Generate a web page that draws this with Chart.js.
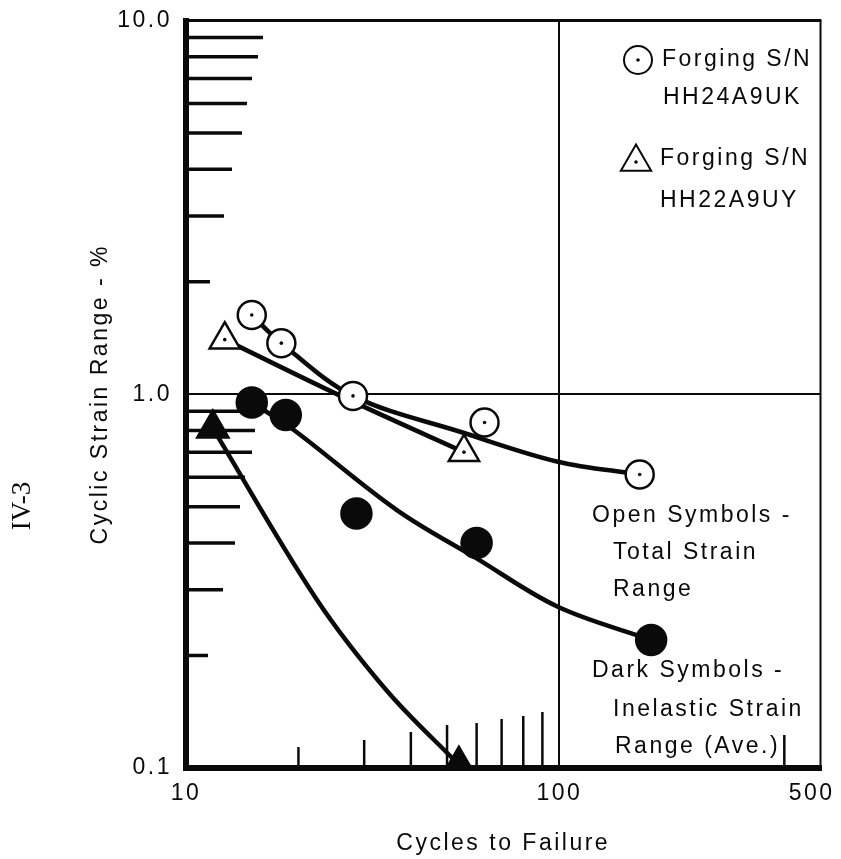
<!DOCTYPE html>
<html lang="en">
<head>
<meta charset="UTF-8">
<title>Cyclic Strain Range vs Cycles to Failure</title>
<script src="https://cdn.jsdelivr.net/npm/chart.js"></script>
<style>
  body { margin: 0; background: #fff; }
  #wrap { width: 841px; height: 859px; }
</style>
</head>
<body>
<div id="wrap"><canvas id="grafico" width="841" height="859"></canvas></div>
<script>
// values: cycles to failure / strain range in %
const cyclesTotal24 = [15, 18, 28, 63, 164];
const strainTotal24 = [1.63, 1.37, 0.99, 0.84, 0.61];
const cyclesTotal22 = [12.7, 55.5];
const strainTotal22 = [1.40, 0.70];
const cyclesInel24 = [15, 18.5, 28.6, 60, 176];
const strainInel24 = [0.95, 0.88, 0.48, 0.40, 0.22];
const cyclesInel22 = [11.8, 53.8];
const strainInel22 = [0.81, 0.102];

// hand drawn fit curves
const fitTotal24X = [15, 18, 28, 55, 99, 164];
const fitTotal24Y = [1.63, 1.37, 0.99, 0.79, 0.66, 0.61];
const fitTotal22X = [12.7, 26.8, 55.5];
const fitTotal22Y = [1.40, 0.975, 0.70];
const fitInel24X = [15, 19.2, 36.7, 59.7, 99, 176];
const fitInel24Y = [0.95, 0.81, 0.49, 0.365, 0.27, 0.22];
const fitInel22X = [11.8, 22.2, 34.5, 53.8];
const fitInel22Y = [0.81, 0.286, 0.161, 0.102];

// axes
const xTickValues = [10, 100, 500];
const yTickValues = [0.1, 1, 10];
const xMinorValues = [20, 30, 40, 50, 60, 70, 80, 90, 400];
const yMinorValues = [0.2, 0.3, 0.4, 0.5, 0.6, 0.7, 0.8, 0.9, 2, 3, 4, 5, 6, 7, 8, 9];

const black = '#0a0a0a';
const fontFam = '"Liberation Sans", Arial, sans-serif';
const pts = (xs, ys) => xs.map((x, i) => ({ x: x, y: ys[i] }));

// tick mark lengths of the "ruler" ticks on the inside of the axes
const xRulerLen = [21, 28, 36, 43, 45, 49, 52, 56, 33];
const yRulerLen = [22, 37, 49, 54, 59, 66, 69, 72, 24, 38, 46, 56, 61, 66, 72, 77];

const spacing = {
  id: 'spacing',
  beforeLayout(chart) { chart.ctx.letterSpacing = '2.5px'; },
  beforeDraw(chart) {
    const ctx = chart.ctx;
    ctx.letterSpacing = '2.5px';
    ctx.save();
    ctx.fillStyle = '#fff';
    ctx.fillRect(0, 0, chart.width, chart.height);
    ctx.restore();
  }
};

const ruler = {
  id: 'ruler',
  beforeDatasetsDraw(chart) {
    const { ctx, chartArea: a, scales: { x, y } } = chart;
    ctx.save();
    ctx.strokeStyle = black;
    ctx.lineWidth = 3;
    ctx.beginPath();
    ctx.moveTo(a.left, a.top);
    ctx.lineTo(a.right + 1, a.top);
    ctx.stroke();
    ctx.lineWidth = 2;
    ctx.beginPath();
    ctx.moveTo(a.right, a.top);
    ctx.lineTo(a.right, a.bottom);
    ctx.stroke();

    ctx.lineWidth = 3.5;
    yMinorValues.forEach((v, i) => {
      const py = y.getPixelForValue(v);
      ctx.beginPath();
      ctx.moveTo(a.left, py);
      ctx.lineTo(a.left + yRulerLen[i], py);
      ctx.stroke();
    });
    ctx.lineWidth = 2.5;
    xMinorValues.forEach((v, i) => {
      const px = x.getPixelForValue(v);
      ctx.beginPath();
      ctx.moveTo(px, a.bottom);
      ctx.lineTo(px, a.bottom - xRulerLen[i]);
      ctx.stroke();
    });
    ctx.restore();
  }
};

const notes = {
  id: 'notes',
  afterDatasetsDraw(chart) {
    const ctx = chart.ctx;
    ctx.save();
    ctx.fillStyle = black;
    ctx.strokeStyle = black;
    ctx.font = '23px ' + fontFam;
    ctx.textAlign = 'left';
    ctx.textBaseline = 'middle';
    const lines = [
      ['Forging S/N', 662, 60],
      ['HH24A9UK', 663, 98],
      ['Forging S/N', 660, 159],
      ['HH22A9UY', 660, 201],
      ['Open Symbols -', 592, 516],
      ['Total Strain', 613, 553],
      ['Range', 613, 590],
      ['Dark Symbols -', 592, 671],
      ['Inelastic Strain', 613, 710],
      ['Range (Ave.)', 615, 747]
    ];
    lines.forEach(l => ctx.fillText(l[0], l[1], l[2]));

    // legend symbols
    ctx.lineWidth = 2;
    ctx.fillStyle = '#fff';
    ctx.beginPath();
    ctx.arc(638, 60, 14, 0, Math.PI * 2);
    ctx.fill();
    ctx.stroke();
    const tx = 636, ty = 162, r = 17.5;
    ctx.beginPath();
    ctx.moveTo(tx, ty - r);
    ctx.lineTo(tx + r * 0.866, ty + r * 0.5);
    ctx.lineTo(tx - r * 0.866, ty + r * 0.5);
    ctx.closePath();
    ctx.fill();
    ctx.stroke();
    ctx.fillStyle = black;
    [[638, 60], [tx, ty]].forEach(p => {
      ctx.beginPath();
      ctx.arc(p[0], p[1], 1.8, 0, Math.PI * 2);
      ctx.fill();
    });

    // page number
    ctx.letterSpacing = '0px';
    ctx.translate(23, 506);
    ctx.rotate(-Math.PI / 2);
    ctx.font = '27px "Liberation Serif", serif';
    ctx.textAlign = 'center';
    ctx.fillText('IV-3', 0, 0);
    ctx.restore();
  }
};

const curve = (xs, ys) => ({
  data: pts(xs, ys),
  showLine: true,
  pointRadius: 0,
  borderColor: black,
  borderWidth: 4.5,
  tension: 0.35,
  order: 3
});

const marker = (xs, ys, style, radius, fill) => ({
  data: pts(xs, ys),
  pointStyle: style,
  pointRadius: radius,
  backgroundColor: fill,
  borderColor: black,
  borderWidth: 2.5,
  order: 2
});

const dot = (xs, ys) => ({
  data: pts(xs, ys),
  pointStyle: 'circle',
  pointRadius: 1.8,
  backgroundColor: black,
  borderWidth: 0,
  order: 1
});

const ctx = document.getElementById('grafico').getContext('2d');
new Chart(ctx, {
  type: 'scatter',
  data: {
    datasets: [
      curve(fitTotal24X, fitTotal24Y),
      curve(fitTotal22X, fitTotal22Y),
      curve(fitInel24X, fitInel24Y),
      curve(fitInel22X, fitInel22Y),
      marker(cyclesTotal24, strainTotal24, 'circle', 14, '#fff'),
      marker(cyclesTotal22, strainTotal22, 'triangle', 17.5, '#fff'),
      marker(cyclesInel24, strainInel24, 'circle', 15, black),
      marker(cyclesInel22, strainInel22, 'triangle', 18, black),
      dot(cyclesTotal24, strainTotal24),
      dot(cyclesTotal22, strainTotal22)
    ]
  },
  options: {
    responsive: false,
    animation: false,
    events: [],
    devicePixelRatio: 1,
    layout: { padding: { top: 16, right: 18, bottom: 0, left: 0 } },
    plugins: { legend: { display: false }, tooltip: { enabled: false } },
    scales: {
      x: {
        type: 'logarithmic',
        min: 10,
        max: 500,
        afterBuildTicks: s => { s.ticks = xTickValues.map(v => ({ value: v })); },
        ticks: {
          autoSkip: false,
          maxRotation: 0,
          padding: 12,
          color: black,
          font: { family: fontFam, size: 23 },
          callback: v => v === 500 ? '500  ' : String(v)
        },
        grid: {
          drawTicks: false,
          lineWidth: 2,
          color: c => (c.tick && c.tick.value === 100) ? black : 'transparent'
        },
        border: { display: true, color: black, width: 6 },
        title: {
          display: true,
          text: 'Cycles to Failure',
          color: black,
          font: { family: fontFam, size: 23 },
          padding: { top: 0, bottom: 2 }
        },
        afterFit: s => { s.height = 91; s.paddingLeft = 0; s.paddingRight = 0; }
      },
      y: {
        type: 'logarithmic',
        min: 0.1,
        max: 10,
        afterBuildTicks: s => { s.ticks = yTickValues.map(v => ({ value: v })); },
        ticks: {
          autoSkip: false,
          padding: 14,
          color: black,
          font: { family: fontFam, size: 23 },
          callback: v => Number(v).toFixed(1)
        },
        grid: {
          drawTicks: false,
          lineWidth: 2,
          color: c => (c.tick && c.tick.value === 1) ? black : 'transparent'
        },
        border: { display: true, color: black, width: 6 },
        title: {
          display: true,
          text: 'Cyclic Strain Range - %',
          color: black,
          font: { family: fontFam, size: 23 },
          padding: { top: 87, bottom: 0 }
        },
        afterFit: s => { s.width = 186; s.paddingTop = 0; s.paddingBottom = 0; }
      }
    }
  },
  plugins: [spacing, ruler, notes]
});
</script>
</body>
</html>
